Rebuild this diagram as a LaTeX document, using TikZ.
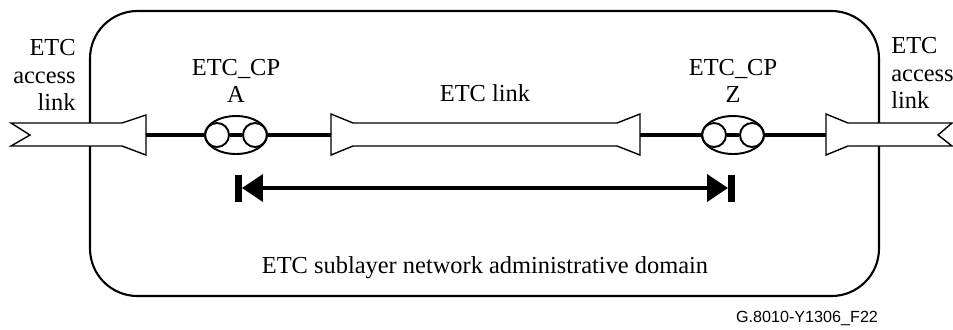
\documentclass[tikz,border=0pt]{standalone}
\usepackage{fontspec}
\setmainfont{Liberation Serif}
\newfontfamily\refsans{Liberation Sans}
\usetikzlibrary{shapes.geometric}
\usetikzlibrary{positioning}
\usetikzlibrary{arrows.meta}
\tikzset{every node/.style={ % Sets the properties for each text
font=\fontsize{13.9}{15.5}\selectfont,
inner sep=0pt},
adminbox/.style={ % The administrative domain
draw,
line width=1.2pt,
rounded corners=0.95cm},
band/.style={ % Outline of a link, hides the domain border
draw,
fill=white,
line width=0.8pt},
wire/.style={line width=1.8pt},
cp/.style={ % Connection point
ellipse,
draw,
line width=1.1pt,
minimum width=1.24cm,
minimum height=0.76cm},
cpdot/.style={
circle,
draw,
line width=1.1pt,
minimum size=0.48cm},
spanline/.style={ % Extent of the sublayer network
line width=2.2pt,
{Triangle[length=0.42cm,width=0.54cm]}-{Triangle[length=0.42cm,width=0.54cm]}},
spanbar/.style={line width=0.14cm}}

\begin{document}
\begin{tikzpicture}[x=0.02cm, y=-0.02cm]
    \useasboundingbox (0,0) rectangle (953,329);
    \draw[adminbox] (90,11) rectangle (879,296);
    % links
    \draw[band] (11,123) -- (30,135) -- (11,146) -- (122,146) -- (146,155) -- (146,115) -- (122,123) -- cycle;
    \draw[band] (331,114) -- (353,123) -- (617,123) -- (640,114) -- (640,155) -- (617,146) -- (353,146) -- (331,155) -- cycle;
    \draw[band] (826,114) -- (848,123) -- (952,123) -- (938,135) -- (952,146) -- (848,146) -- (826,155) -- cycle;
    \coordinate (accA) at (146,135);
    \coordinate (lnkA) at (331,135);
    \coordinate (lnkZ) at (640,135);
    \coordinate (accZ) at (826,135);
    % connection points
    \node[cp] (cpA) at (236,135) {};
    \node[cpdot, xshift=-0.38cm] (cpAl) at (cpA) {};
    \node[cpdot, xshift=0.38cm] (cpAr) at (cpA) {};
    \node[cp] (cpZ) at (733,135) {};
    \node[cpdot, xshift=-0.38cm] (cpZl) at (cpZ) {};
    \node[cpdot, xshift=0.38cm] (cpZr) at (cpZ) {};
    \draw[wire] (accA) -- (cpA);
    \draw[wire] (cpAl) -- (cpAr);
    \draw[wire] (cpA) -- (lnkA);
    \draw[wire] (lnkZ) -- (cpZ);
    \draw[wire] (cpZl) -- (cpZr);
    \draw[wire] (cpZ) -- (accZ);
    % labels
    \node[align=right, anchor=east] (accAtxt) at (76,75) {ETC\\access\\link};
    \node[align=left, anchor=west] (accZtxt) at (891,73) {ETC\\access\\link};
    \node[align=center, above=0.24cm of cpA] (cpAtxt) {ETC\_CP\\A};
    \node[align=center, above=0.24cm of cpZ] (cpZtxt) {ETC\_CP\\Z};
    \node (lnktxt) at (485,93) {ETC link};
    % extent
    \coordinate (dimA) at (242,188);
    \coordinate (dimZ) at (728,188);
    \draw[spanline] (dimA) -- (dimZ);
    \draw[spanbar] ([xshift=-0.07cm, yshift=0.27cm]dimA) -- ([xshift=-0.07cm, yshift=-0.27cm]dimA);
    \draw[spanbar] ([xshift=0.07cm, yshift=0.27cm]dimZ) -- ([xshift=0.07cm, yshift=-0.27cm]dimZ);
    \node (domtxt) at (485,268) {ETC sublayer network administrative domain};
    \node[font=\refsans\fontsize{9.2}{11}\selectfont] (figid) at (807,318) {G.8010-Y1306\_F22};
\end{tikzpicture}
\end{document}
